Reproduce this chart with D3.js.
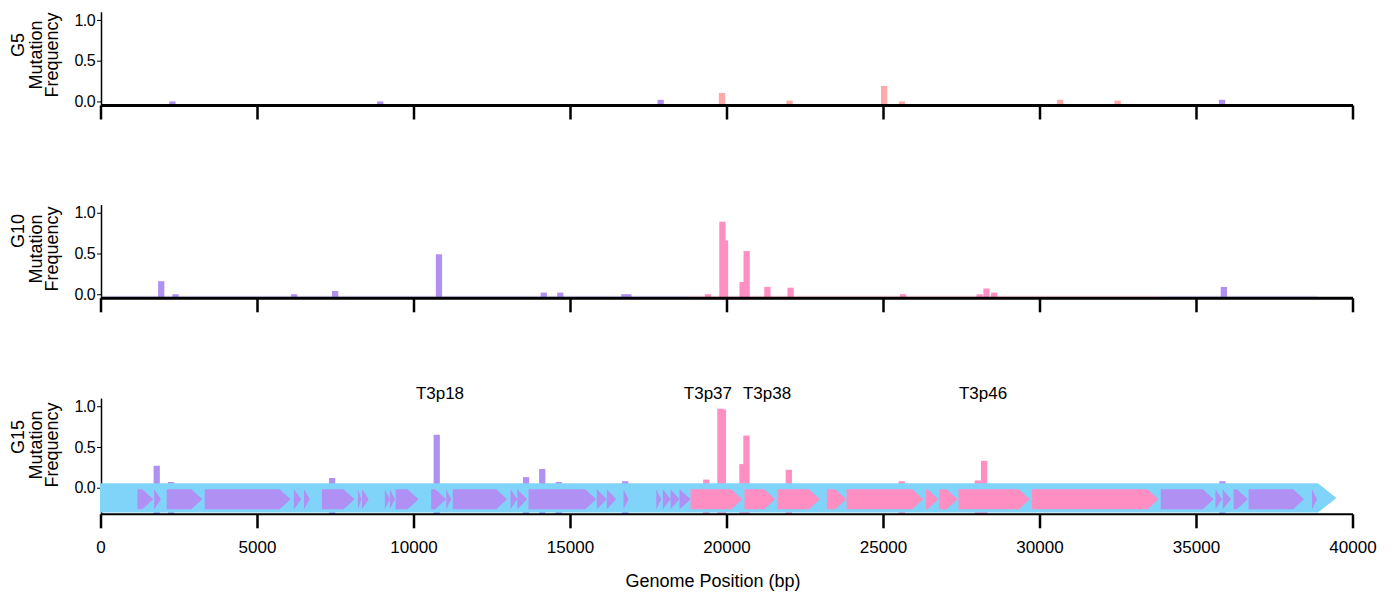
<!DOCTYPE html>
<html><head><meta charset="utf-8">
<script src="https://cdn.jsdelivr.net/npm/d3@7"></script>
<style>body{margin:0;background:#fff}svg{display:block}text{font-family:"Liberation Sans",Arial,Helvetica,sans-serif;fill:#000}</style>
</head><body><svg id="c" width="1398" height="597"></svg>
<script>
// ---------- data ----------
const xTicks = [0,5000,10000,15000,20000,25000,30000,35000,40000];
const yTicks = [0.0,0.5,1.0];
const samples = ["G5","G10","G15"];

const g5Pos = [2280, 8920, 17880, 19840, 22000, 25020, 25590, 30640, 32480, 35815];
const g5Val = [0.00, 0.00, 0.02, 0.105, 0.01, 0.19, 0.00, 0.02, 0.01, 0.02];

const g10Pos = [1924, 2381, 6170, 7480, 10797, 14146, 14674, 16720, 16850, 19393, 19937, 19853, 20498, 20628, 21290, 22032, 25625, 28074, 28290, 28534, 35874];
const g10Val = [0.16, 0.00, 0.00, 0.04, 0.49, 0.02, 0.02, 0.00, 0.00, 0.00, 0.66, 0.89, 0.15, 0.53, 0.09, 0.08, 0.00, 0.00, 0.07, 0.02, 0.09];

const g15Pos = [1780, 2237, 7384, 10726, 13580, 14097, 14627, 16748, 19339, 19790, 19870, 20492, 20621, 21975, 25580, 28014, 28216, 35825];
const g15Val = [0.27, 0.07, 0.12, 0.65, 0.13, 0.23, 0.07, 0.08, 0.10, 0.97, 0.96, 0.29, 0.64, 0.22, 0.08, 0.09, 0.33, 0.08];

const geneStart = [1163,1700,2099,3313,6163,6486,7058,8208,8339,9067,9230,9413,10550,11029,11240,13084,13298,13659,15841,16160,16694,17739,17950,18196,18483,
                   18835,20560,21614,23189,23819,26352,26780,27397,29739,
                   33857,35605,35838,36186,36662,38691];
const geneEnd   = [1668,1914,3237,6058,6400,6671,8099,8317,8553,9230,9390,10144,11029,11189,12978,13298,13617,15822,16160,16461,16853,17898,18196,18483,18835,
                   20486,21541,22965,23809,26269,26758,27365,29675,33784,
                   35551,35816,36103,36640,38439,38851];
const geneClass = ["e","e","e","e","e","e","e","e","e","e","e","e","e","e","e","e","e","e","e","e","e","e","e","e","e",
                   "l","l","l","l","l","l","l","l","l",
                   "e","e","e","e","e","e"];

const labelText = ["T3p18","T3p37","T3p38","T3p46"];
const labelPos  = [10830, 19390, 21280, 28180];
const genomeEnd = 39470;

// ---------- style ----------
const purple = "#b190f4", pink = "#ff8ec2", pinkLight = "#ffaaaa", blue = "#81d4f9";
const svg = d3.select("#c");
const x = d3.scaleLinear().domain([0,40000]).range([101,1353]);
const K = 81.5, yMax = 1.1;

const lateLo = d3.min(geneStart.filter((d,i)=>geneClass[i]==="l"));
const lateHi = d3.max(geneEnd.filter((d,i)=>geneClass[i]==="l"));
const isLate = p => p >= lateLo && p <= lateHi;

const panels = [
  {name:samples[0], pos:g5Pos,  val:g5Val,  late:pinkLight, axisY:105.5, lo:-0.05,  gCy:45,  tCy:55,  lw:3},
  {name:samples[1], pos:g10Pos, val:g10Val, late:pink,      axisY:298.3, lo:-0.05,  gCy:231, tCy:249, lw:3, faint:true},
  {name:samples[2], pos:g15Pos, val:g15Val, late:pink,      axisY:514.3, lo:-0.326, gCy:437, tCy:445, lw:2, track:true}
];

panels.forEach(P => {
  const y = d3.scaleLinear().domain([P.lo, yMax]).range([P.axisY, P.axisY - (yMax-P.lo)*K]);
  const g = svg.append("g");

  // y axis
  const ya = g.append("g").attr("transform",`translate(${x(0)},0)`)
    .call(d3.axisLeft(y).tickValues(yTicks).tickSize(4).tickPadding(2).tickSizeOuter(0).tickFormat(d3.format(".1f")));
  ya.select(".domain").attr("stroke","#000").attr("stroke-width",1.5);
  ya.selectAll(".tick line").attr("stroke","#000").attr("stroke-width",1);
  ya.selectAll(".tick text").attr("font-size",16).attr("font-family","'Liberation Sans',Arial,sans-serif").attr("letter-spacing","-0.6");

  // y titles
  const tl = [[P.name, 24, P.gCy],["Mutation", 41.5, P.tCy],["Frequency", 58, P.tCy]];
  tl.forEach(t => g.append("text").attr("transform",`translate(${t[1]},${t[2]}) rotate(-90)`)
      .attr("text-anchor","middle").attr("font-size",18).text(t[0]));

  // faint zero line
  if (P.faint) {
    geneStart.forEach((s,i) => {
      const a = i===0 ? 0 : s;
      const b = i<geneStart.length-1 ? geneStart[i+1] : geneEnd[i];
      g.append("rect").attr("x",x(a)).attr("width",x(b)-x(a))
        .attr("y",P.axisY-2.6).attr("height",1.2)
        .attr("fill", geneClass[i]==="l" ? pink : purple).attr("opacity",0.3);
    });
  }

  // bars
  const bw = 200;
  g.append("g").selectAll("rect").data(P.pos.map((p,i)=>({p, v:P.val[i]}))).join("rect")
    .attr("x", d => x(d.p - bw/2)).attr("width", d => x(d.p + bw/2) - x(d.p - bw/2))
    .attr("y", d => y(d.v)).attr("height", d => y(P.lo) - y(d.v))
    .attr("fill", d => isLate(d.p) ? P.late : purple);

  // gene track
  if (P.track) {
    const t0 = y(0.055), t1 = y(-0.305), tm = (t0+t1)/2;
    const xe = x(genomeEnd), hb = 18.5;
    g.append("path").attr("fill",blue)
      .attr("d",`M${x(0)-1},${t0}L${xe-hb},${t0}L${xe},${tm}L${xe-hb},${t1}L${x(0)-1},${t1}Z`);
    const a0 = y(-0.018), a1 = y(-0.264), am = (a0+a1)/2;
    g.append("g").selectAll("path").data(geneStart.map((s,i)=>({s, e:geneEnd[i], c:geneClass[i]}))).join("path")
      .attr("fill", d => d.c==="l" ? pink : purple)
      .attr("d", d => {
        const x0 = x(d.s), x1 = x(d.e), h = Math.min(11, x1-x0);
        return `M${x0},${a0}L${x1-h},${a0}L${x1},${am}L${x1-h},${a1}L${x0},${a1}Z`;
      });
    labelText.forEach((t,i) => g.append("text").attr("x",x(labelPos[i])).attr("y",399)
      .attr("text-anchor","middle").attr("font-size",17).text(t));
  }

  // x axis
  g.append("line").attr("x1",x(0)).attr("x2",x(40000)).attr("y1",P.axisY).attr("y2",P.axisY)
    .attr("stroke","#000").attr("stroke-width",P.lw);
  g.append("g").selectAll("line").data(xTicks).join("line")
    .attr("x1",d=>x(d)).attr("x2",d=>x(d)).attr("y1",P.axisY).attr("y2",P.axisY+14)
    .attr("stroke","#000").attr("stroke-width",2.5);
  if (P.track) {
    g.append("g").selectAll("text").data(xTicks).join("text")
      .attr("x",d=>x(d)).attr("y",P.axisY+39).attr("text-anchor","middle").attr("font-size",17)
      .text(d=>d);
  }
});

svg.append("text").attr("x",713).attr("y",587).attr("text-anchor","middle").attr("font-size",18)
  .text("Genome Position (bp)");
</script>
</body></html>
